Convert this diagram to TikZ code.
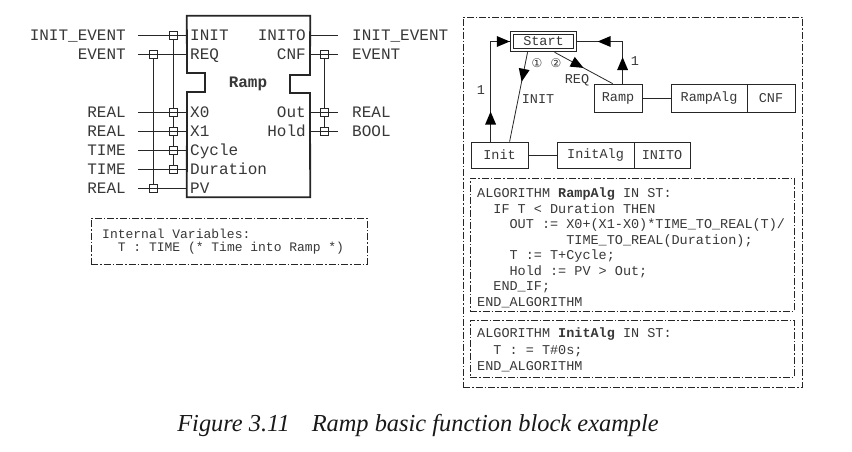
\documentclass[tikz,border=0pt]{standalone}
\usepackage{fontspec}
\setmainfont{Liberation Serif}
\setmonofont{Liberation Mono}
\newfontfamily\circfont{DejaVu Sans}
\usetikzlibrary{calc}
\definecolor{ink}{gray}{0.15}
\definecolor{txt}{gray}{0.22}
\begin{document}
\begin{tikzpicture}[x=1pt,y=-1pt,
  fbt/.style={font=\fontsize{16}{16}\selectfont\ttfamily, text=txt, inner sep=0pt, text height=10.4pt, text depth=0pt},
  ecct/.style={font=\fontsize{13.5}{15}\selectfont\ttfamily, text=txt, inner sep=0pt},
  eccbox/.style={draw=ink, line width=0.8pt, inner sep=0pt, ecct},
  wq/.style={draw=ink, fill=white, line width=0.8pt, minimum size=8pt, inner sep=0pt},
  wire/.style={draw=ink, line width=0.8pt},
  ddframe/.style={draw=ink, line width=0.8pt, dash pattern=on 7pt off 2pt on 1.5pt off 2pt, inner sep=0pt},
  codeline/.style={font=\fontsize{13.5}{15.5}\selectfont\ttfamily, text=txt, inner sep=0pt, anchor=base west},
  ivline/.style={font=\fontsize{13}{15}\selectfont\ttfamily, text=txt, inner sep=0pt, anchor=base west},
  circ/.style={font=\fontsize{12}{12}\selectfont\circfont, text=txt, inner sep=0pt},
  headfill/.style={fill=black}
]
% filled arrowhead: tip at #1, pointing away from #2
\newcommand\ahead[2]{%
  \coordinate (ahb) at ($(#1)!13pt!(#2)$);
  \fill[headfill] (#1) -- ($(ahb)!5.5pt!90:(#1)$) -- ($(ahb)!5.5pt!-90:(#1)$) -- cycle;}
\useasboundingbox (0,0) rectangle (852,451);
\fill[white] (0,0) rectangle (852,451);

% ---------------- Function block (left) ----------------
\node[minimum width=123pt, minimum height=181pt, inner sep=0pt] (fb) at (248.5,106.5) {};
\draw[draw=ink, line width=1.8pt, line join=miter]
  (fb.north west) -- (fb.north east) -- (310,75) -- (290,75) -- (290,93) -- (310,93)
  -- (fb.south east) -- (fb.south west) -- (187,92) -- (205,92) -- (205,73) -- (187,73) -- cycle;
\node[font=\fontsize{16}{16}\selectfont\ttfamily\bfseries, text=txt, inner sep=0pt] (fbname) at (248,84) {Ramp};

\foreach \lab/\pin/\y/\n in {INIT\_EVENT/INIT/35/1, EVENT/REQ/54/2, REAL/X0/112/3, REAL/X1/131/4, TIME/Cycle/150/5, TIME/Duration/169/6, REAL/PV/188/7}{
  \node[fbt, anchor=east] (L\n) at (126,\y) {\lab};
  \node[fbt, anchor=west] (P\n) at (190,\y) {\pin};
}
\foreach \lab/\pin/\y/\n in {INIT\_EVENT/INITO/35/1, EVENT/CNF/54/2, REAL/Out/112/3, BOOL/Hold/131/4}{
  \node[fbt, anchor=west] (R\n) at (352,\y) {\lab};
  \node[fbt, anchor=east] (O\n) at (306,\y) {\pin};
}
% with-qualifier squares
\node[wq] (q1) at (173,35) {};
\node[wq] (q3) at (173,112) {};
\node[wq] (q4) at (173,131) {};
\node[wq] (q5) at (173,150) {};
\node[wq] (q6) at (173,169) {};
\node[wq] (q2) at (153,54) {};
\node[wq] (q7) at (153,188) {};
\node[wq] (r2) at (324,54) {};
\node[wq] (r3) at (324,112) {};
\node[wq] (r4) at (324,131) {};
\draw[wire] (q1) -- (q3) (q3) -- (q4) (q4) -- (q5) (q5) -- (q6) (q2) -- (q7);
\draw[wire] (r2) -- (r3) (r3) -- (r4);
\foreach \n in {1,...,7}{
  \draw[wire] ([xshift=12pt]L\n.east) -- (L\n.east -| fb.west);
}
\foreach \n in {1,...,4}{
  \draw[wire] (R\n.west -| fb.east) -- ([xshift=-14pt]R\n.west);
}

% internal variables
\node[ddframe, minimum width=276pt, minimum height=46pt] (ivbox) at (229,241) {};
\node[ivline] (iv1) at (102,238) {Internal Variables:};
\node[ivline] (iv2) at (117.6,251.5) {T : TIME (* Time into Ramp *)};

% ---------------- ECC (right) ----------------
\node[ddframe, minimum width=339pt, minimum height=370pt] (outer) at (632.5,202) {};
\node[ddframe, minimum width=324pt, minimum height=133pt] (alg1) at (632,244.5) {};
\node[ddframe, minimum width=324pt, minimum height=57pt] (alg2) at (632,348.5) {};

\node[eccbox, double, double distance=2pt, line width=0.9pt, minimum width=63pt, minimum height=17pt] (start) at (543.5,41.5) {Start};
\node[eccbox, minimum width=57pt, minimum height=26pt] (init) at (499.5,155) {Init};
\node[eccbox, minimum width=77pt, minimum height=26pt] (initalg) at (595.5,155) {InitAlg};
\node[eccbox, minimum width=56pt, minimum height=26pt] (inito) at (662,155) {INITO};
\node[eccbox, minimum width=48pt, minimum height=28pt] (ramp) at (618,98) {Ramp};
\node[eccbox, minimum width=76pt, minimum height=28pt] (rampalg) at (709,98) {RampAlg};
\node[eccbox, minimum width=48pt, minimum height=28pt] (cnf) at (771,98) {CNF};

\draw[wire] (init.east) -- (initalg.west);
\draw[wire] (ramp.east) -- (rampalg.west);

% transitions
\coordinate (a1) at ([xshift=20pt]init.north west);
\coordinate (c1) at (a1 |- start.west);
\coordinate (e1) at ([xshift=-1.8pt]start.west);
\draw[wire] (a1) -- (c1) -- (e1);
\coordinate (m1) at ($(a1)!0.3!(c1)$);
\ahead{m1}{a1}
\ahead{e1}{c1}

\coordinate (a2) at ([xshift=29pt]ramp.north west);
\coordinate (c2) at (a2 |- start.east);
\coordinate (e2) at ([xshift=1.8pt]start.east);
\draw[wire] (a2) -- (c2) -- (e2);
\coordinate (m2) at ($(a2)!0.63!(c2)$);
\ahead{m2}{a2}
\coordinate (m3) at ($(c2)!0.55!(e2)$);
\ahead{m3}{c2}

\coordinate (a3) at ([xshift=16pt,yshift=-1.8pt]start.south west);
\coordinate (b3) at ([xshift=39pt]init.north west);
\draw[wire] (a3) -- (b3);
\coordinate (m4) at ($(a3)!0.33!(b3)$);
\ahead{m4}{a3}

\coordinate (a4) at ([xshift=43pt,yshift=-1.8pt]start.south west);
\coordinate (b4) at ([xshift=19pt]ramp.north west);
\draw[wire] (a4) -- (b4);
\coordinate (m5) at ($(a4)!0.5!(b4)$);
\ahead{m5}{a4}

\node[ecct] (one1) at (481,90) {1};
\node[ecct] (one2) at (635,61) {1};
\node[ecct] (tINIT) at (538,99) {INIT};
\node[ecct] (tREQ) at (577,80) {REQ};
\node[circ] (c1lab) at (537,63) {①};
\node[circ] (c2lab) at (556,63) {②};

% algorithms
\foreach \ind/\i/\t in {0/0/{ALGORITHM \textbf{RampAlg} IN ST:},
                        2/1/{IF T < Duration THEN},
                        4/2/{OUT := X0+(X1-X0)*TIME\_TO\_REAL(T)/},
                        11/3/{TIME\_TO\_REAL(Duration);},
                        4/4/{T := T+Cycle;},
                        4/5/{Hold := PV > Out;},
                        2/6/{END\_IF;},
                        0/7/{END\_ALGORITHM}}{
  \node[codeline] (ra\i) at ({477+\ind*8.1},{197.5+\i*15.5}) {\t};
}
\foreach \ind/\i/\t in {0/0/{ALGORITHM \textbf{InitAlg} IN ST:},
                        2/1/{T : = T\#0s;},
                        0/2/{END\_ALGORITHM}}{
  \node[codeline] (ia\i) at ({477+\ind*8.1},{337.5+\i*16.5}) {\t};
}

% caption
\node[font=\fontsize{24.4}{28}\selectfont\itshape, text=black!90, inner sep=0pt, anchor=base] (cap) at (418,431) {Figure 3.11\hspace{0.9em}Ramp basic function block example};
\end{tikzpicture}
\end{document}
